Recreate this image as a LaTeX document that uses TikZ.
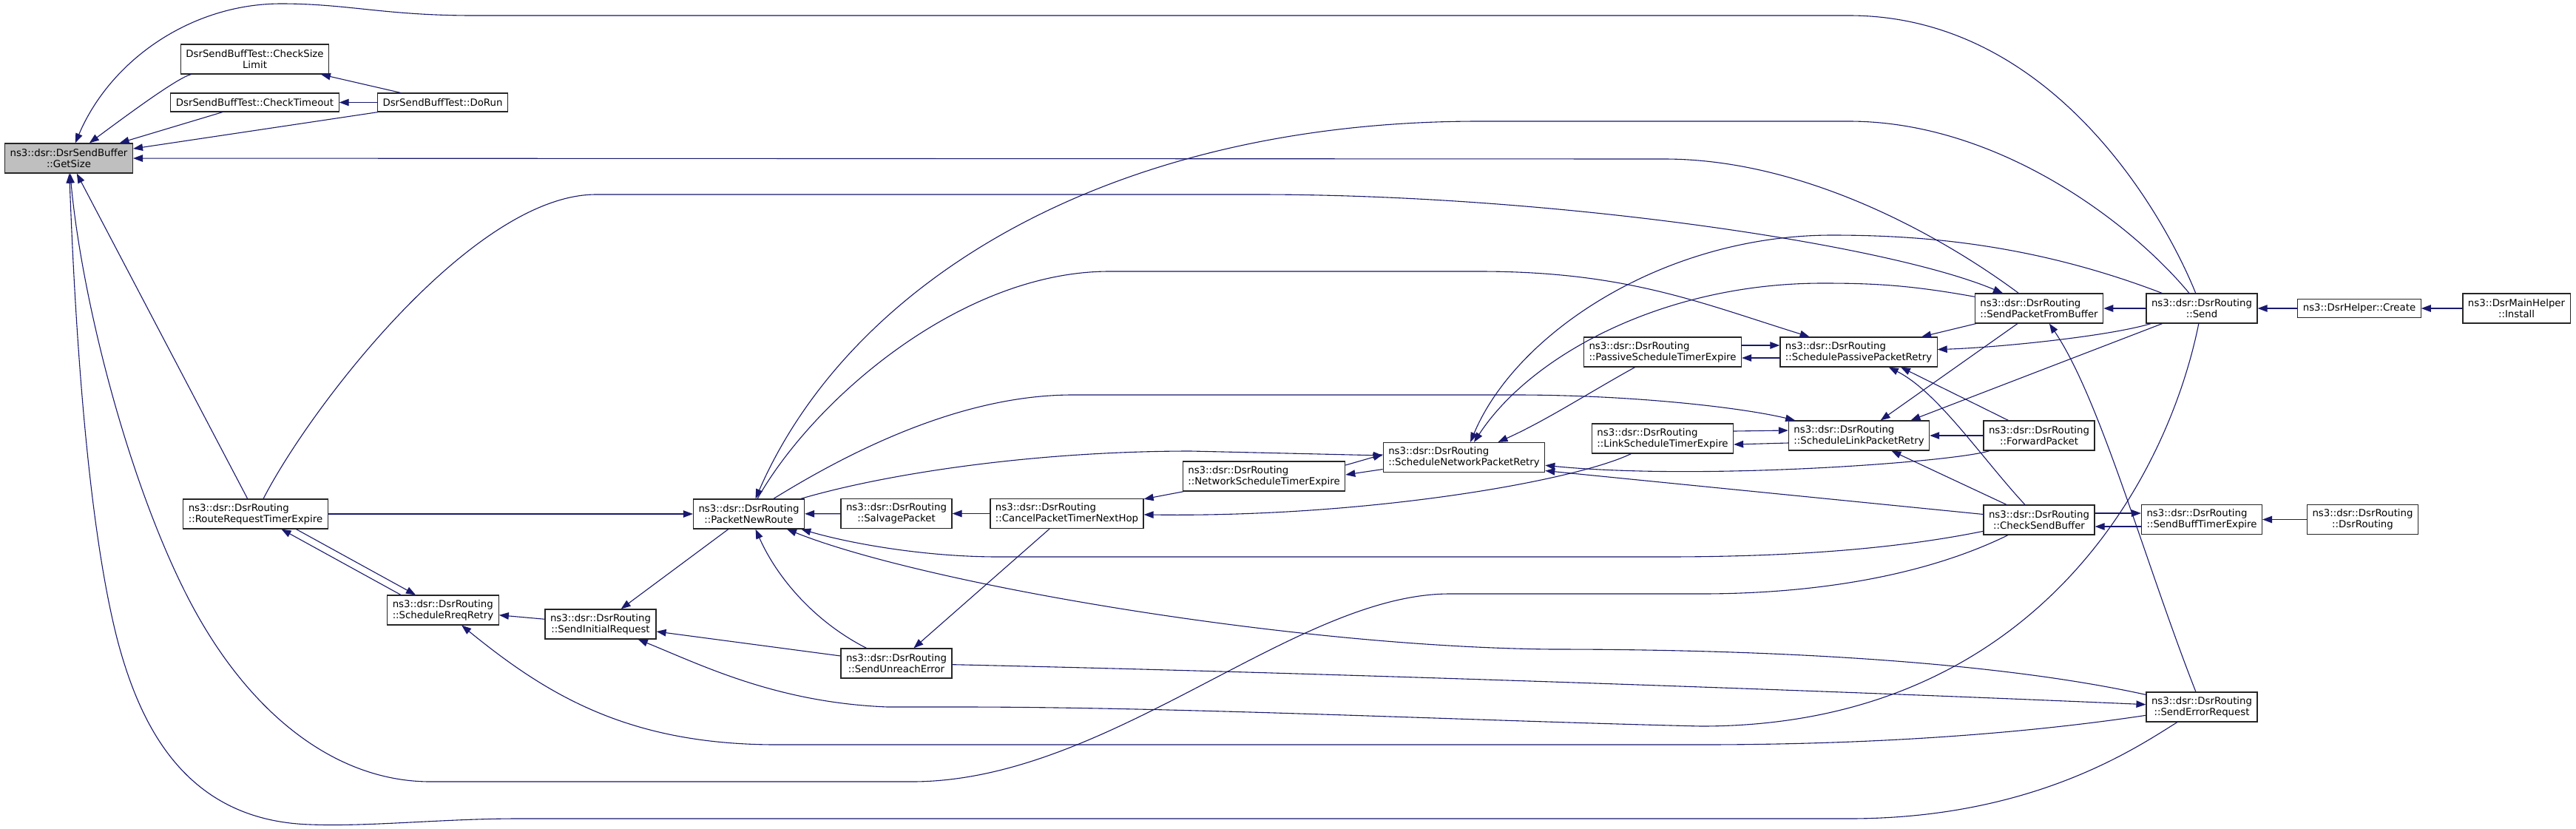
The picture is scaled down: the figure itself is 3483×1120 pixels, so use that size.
\documentclass[tikz,border=0pt]{standalone}
\usepackage{fontspec}
\setmainfont{DejaVu Sans}
\usetikzlibrary{arrows.meta}
\definecolor{edgeblue}{RGB}{25,25,112}
\definecolor{rootgray}{RGB}{191,191,191}
\begin{document}
\begin{tikzpicture}[x=1pt, y=-1pt,
    fn/.style={draw=black!85, fill=white, line width=1.2pt, inner xsep=7pt, inner ysep=0pt,
      minimum height=40pt, align=center, font=\fontsize{13.3}{15}\selectfont},
    fnl/.style={fn, align=left},
    fnone/.style={fn, minimum height=25pt},
    call/.style={draw=edgeblue, line width=1.1pt, ->},
    >={Triangle[length=13pt,width=9.5pt]}]
    \fill[white] (0,0) rectangle (3483,1120);
    \useasboundingbox (0,0) rectangle (3483,1120);

    \node[fn, fill=rootgray] (gs) at (93,214) {ns3::dsr::DsrSendBuffer\\::GetSize};
    \node[fn] (csl) at (344.5,80) {DsrSendBuffTest::CheckSize\\Limit};
    \node[fnone] (cto) at (344.5,138.5) {DsrSendBuffTest::CheckTimeout};
    \node[fnone] (dorun) at (598.5,138.5) {DsrSendBuffTest::DoRun};
    \node[fnl] (rrte) at (345.5,695) {ns3::dsr::DsrRouting\\::RouteRequestTimerExpire};
    \node[fn] (pnr) at (1012.5,695) {ns3::dsr::DsrRouting\\::PacketNewRoute};
    \node[fnl] (rrr) at (599,825) {ns3::dsr::DsrRouting\\::ScheduleRreqRetry};
    \node[fn] (sir) at (812,844) {ns3::dsr::DsrRouting\\::SendInitialRequest};
    \node[fn] (salv) at (1212,694.5) {ns3::dsr::DsrRouting\\::SalvagePacket};
    \node[fnl] (cptn) at (1442.5,694.5) {ns3::dsr::DsrRouting\\::CancelPacketTimerNextHop};
    \node[fn] (sue) at (1212,897) {ns3::dsr::DsrRouting\\::SendUnreachError};
    \node[fnl] (nste) at (1709,644) {ns3::dsr::DsrRouting\\::NetworkScheduleTimerExpire};
    \node[fnl] (snpr) at (1979.5,618.5) {ns3::dsr::DsrRouting\\::ScheduleNetworkPacketRetry};
    \node[fnl] (pste) at (2248,476) {ns3::dsr::DsrRouting\\::PassiveScheduleTimerExpire};
    \node[fnl] (sppr) at (2513,476) {ns3::dsr::DsrRouting\\::SchedulePassivePacketRetry};
    \node[fnl] (lste) at (2248,593) {ns3::dsr::DsrRouting\\::LinkScheduleTimerExpire};
    \node[fnl] (slpr) at (2513.5,589) {ns3::dsr::DsrRouting\\::ScheduleLinkPacketRetry};
    \node[fn] (fwd) at (2757,589) {ns3::dsr::DsrRouting\\::ForwardPacket};
    \node[fnl] (spfb) at (2757,417) {ns3::dsr::DsrRouting\\::SendPacketFromBuffer};
    \node[fn] (send) at (2977,417) {ns3::dsr::DsrRouting\\::Send};
    \node[fn] (csb) at (2757,703) {ns3::dsr::DsrRouting\\::CheckSendBuffer};
    \node[fnl] (sbte) at (2977,702.5) {ns3::dsr::DsrRouting\\::SendBuffTimerExpire};
    \node[fn] (ser) at (2977,956) {ns3::dsr::DsrRouting\\::SendErrorRequest};
    \node[fnone] (create) at (3190,417) {ns3::DsrHelper::Create};
    \node[fn] (install) at (3402.5,417) {ns3::DsrMainHelper\\::Install};
    \node[fn] (ctor) at (3194.5,702.5) {ns3::dsr::DsrRouting\\::DsrRouting};

    \draw[call] (csl) .. controls (240,105) and (170,157) .. (gs);
    \draw[call] (cto) -- (gs);
    \draw[call] (dorun) -- (gs);
    \draw[call] (dorun) -- (csl);
    \draw[call] (dorun) -- (cto);
    \draw[call] (send) .. controls (2930,300) and (2780,21) .. (2500,21) -- (640,21)
        .. controls (520,21) and (470,5) .. (380,5) .. controls (260,5) and (150,80) .. (gs);
    \draw[call] (spfb) .. controls (2640,330) and (2450,215) .. (2250,215) -- (gs);
    \draw[call] (rrte) -- (gs);
    \draw[call] (csb) .. controls (2600,780) and (2450,803) .. (2300,803) -- (1960,803)
        .. controls (1750,803) and (1500,1057) .. (1233,1057) -- (582,1057)
        .. controls (450,1057) and (330,960) .. (250,800) .. controls (170,640) and (110,400) .. (gs);
    \draw[call] (ser) .. controls (2890,1010) and (2750,1107) .. (2500,1107) -- (700,1107)
        .. controls (600,1107) and (500,1118) .. (420,1115) .. controls (250,1110) and (190,980) .. (160,870)
        .. controls (115,700) and (100,400) .. (gs);

    \draw[call] (rrte) -- (pnr);
    \draw[call] (rrte) .. controls (420,550) and (640,263) .. (806,263) -- (1700,263)
        .. controls (2100,263) and (2550,330) .. (spfb);
    \draw[call] ([xshift=-57pt]rrr.north) -- ([xshift=35pt]rrte.south);
    \draw[call] ([xshift=55pt]rrte.south) -- ([xshift=-37pt]rrr.north);
    \draw[call] (sir) -- (rrr);
    \draw[call] (pnr) -- (sir);
    \draw[call] (send) .. controls (2880,300) and (2700,164) .. (2500,164) -- (2000,164)
        .. controls (1500,164) and (1150,380) .. (pnr);
    \draw[call] (pnr) .. controls (1100,540) and (1300,367) .. (1500,367) -- (2000,367)
        .. controls (2200,367) and (2300,410) .. (sppr);
    \draw[call] (pnr) .. controls (1150,610) and (1300,534) .. (1450,534) -- (2050,534)
        .. controls (2200,534) and (2350,550) .. (slpr);
    \draw[call] (pnr) .. controls (1200,640) and (1400,610) .. (1610,610) -- (snpr);
    \draw[call] (csb) .. controls (2550,745) and (2400,753) .. (2250,753) -- (1350,753)
        .. controls (1250,753) and (1150,735) .. (pnr);
    \draw[call] (ser) .. controls (2700,895) and (2400,878) .. (2100,878)
        .. controls (1750,875) and (1250,790) .. (pnr);
    \draw[call] (sue) .. controls (1100,840) and (1050,780) .. (pnr);
    \draw[call] (salv) -- (pnr);
    \draw[call] (cptn) -- (salv);
    \draw[call] (cptn) -- (sue);
    \draw[call] (sue) -- (sir);
    \draw[call] (send) .. controls (2930,650) and (2750,982) .. (2300,982)
        .. controls (2000,975) and (1600,956) .. (1300,956) -- (1200,956)
        .. controls (1050,950) and (950,900) .. (sir);
    \draw[call] (ser) .. controls (2750,990) and (2550,1007) .. (2300,1007) -- (1050,1007)
        .. controls (850,1007) and (740,940) .. (rrr);
    \draw[call] (sue) .. controls (1800,910) and (2500,935) .. (ser);

    \draw[call] (nste) -- (cptn);
    \draw[call] (lste) .. controls (2130,650) and (1850,700) .. (cptn);
    \draw[call] ([yshift=15pt]nste.east) -- ([yshift=4pt]snpr.west);
    \draw[call] ([yshift=-16pt]snpr.west) -- ([yshift=2pt]nste.east);
    \draw[call] (pste) .. controls (2150,530) and (2090,569) .. (snpr);
    \draw[call] (send) .. controls (2750,330) and (2600,318) .. (2477,318)
        .. controls (2250,318) and (2050,450) .. (snpr);
    \draw[call] (spfb) .. controls (2580,385) and (2530,383) .. (2464,383)
        .. controls (2250,383) and (2070,480) .. (snpr);
    \draw[call] (fwd) .. controls (2640,625) and (2300,650) .. (snpr);
    \draw[call] (csb) -- ([yshift=-18pt]snpr.east);

    \draw[call] ([yshift=9pt]pste.east) -- ([yshift=9pt]sppr.west);
    \draw[call] ([yshift=-8pt]sppr.west) -- ([yshift=-8pt]pste.east);
    \draw[call] ([yshift=10pt]lste.east) -- ([yshift=7pt]slpr.west);
    \draw[call] ([yshift=-10pt]slpr.west) -- ([yshift=-8pt]lste.east);
    \draw[call] (spfb) -- (sppr);
    \draw[call] (send) .. controls (2850,455) and (2700,470) .. (sppr);
    \draw[call] (csb) .. controls (2680,620) and (2620,530) .. (sppr);
    \draw[call] (fwd) -- ([xshift=57pt]sppr.south);
    \draw[call] (spfb) -- (slpr);
    \draw[call] (send) -- ([xshift=70pt]slpr.north);
    \draw[call] (csb) -- (slpr);
    \draw[call] (fwd) -- (slpr);
    \draw[call] (send) -- (spfb);
    \draw[call] (ser) .. controls (2900,760) and (2840,540) .. (spfb);
    \draw[call] ([yshift=9pt]csb.east) -- ([yshift=8.5pt]sbte.west);
    \draw[call] ([yshift=-9.5pt]sbte.west) -- ([yshift=-9pt]csb.east);
    \draw[call] (create) -- (send);
    \draw[call] (install) -- (create);
    \draw[call] (ctor) -- (sbte);
\end{tikzpicture}
\end{document}
